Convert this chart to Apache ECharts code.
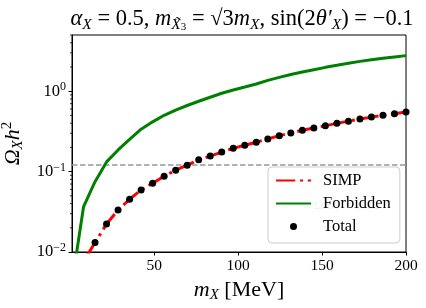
<!DOCTYPE html>
<html>
<head>
<meta charset="utf-8">
<script src="https://cdn.jsdelivr.net/npm/echarts@6/dist/echarts.min.js"></script>
<style>html,body{margin:0;padding:0;background:#fff;}#c{width:426px;height:308px;}</style>
</head>
<body>
<div id="c"></div>
<script>
const mX = [1, 7.862, 14.724, 21.586, 28.448, 35.310, 42.172, 49.034, 55.897, 62.759,
  69.621, 76.483, 83.345, 90.207, 97.069, 103.931, 110.793, 117.655, 124.517, 131.379,
  138.241, 145.103, 151.966, 158.828, 165.690, 172.552, 179.414, 186.276, 193.138, 200];
const simp = [0.0006, 0.0076, 0.0131, 0.0223, 0.0332, 0.0453, 0.0591, 0.0718, 0.0877, 0.104,
  0.120, 0.140, 0.156, 0.175, 0.195, 0.213, 0.232, 0.255, 0.279, 0.303,
  0.326, 0.348, 0.372, 0.398, 0.424, 0.450, 0.476, 0.501, 0.525, 0.552];
const forbidden = [0.0041, 0.0363, 0.075, 0.132, 0.186, 0.252, 0.337, 0.416, 0.502, 0.583,
  0.664, 0.750, 0.841, 0.942, 1.035, 1.127, 1.229, 1.362, 1.485, 1.61,
  1.73, 1.85, 1.98, 2.10, 2.23, 2.35, 2.46, 2.57, 2.67, 2.77];
const total = [0.0006, 0.0076, 0.0131, 0.0223, 0.0332, 0.0453, 0.0591, 0.0718, 0.0877, 0.104,
  0.120, 0.140, 0.156, 0.175, 0.195, 0.213, 0.232, 0.255, 0.279, 0.303,
  0.326, 0.348, 0.372, 0.398, 0.424, 0.450, 0.476, 0.501, 0.525, 0.552];
const omegaRef = 0.12;
const xTicks = [50, 100, 150, 200];
const yTicks = [0.01, 0.1, 1];
const yMinorTicks = [0.02,0.03,0.04,0.05,0.06,0.07,0.08,0.09,0.2,0.3,0.4,0.5,0.6,0.7,0.8,0.9,2,3,4,5];
const seriesNames = ['SIMP', 'Forbidden', 'Total'];

const FF = 'Liberation Serif';
const pair = (xs, ys) => xs.map((x, i) => [x, ys[i]]);
const isPow10 = v => Math.abs(Math.log10(v) - Math.round(Math.log10(v))) < 1e-6;

const chart = echarts.init(document.getElementById('c'), null, {renderer: 'canvas'});
chart.setOption({
  animation: false,
  backgroundColor: '#fff',
  title: {
    text: '{i|α}{s|X}{r| = 0.5, }{i|m}{s|X̃}{ss|3}{r| = √3}{i|m}{s|X}{r|, sin(2}{i|θ′}{s|X}{r|) = −0.1}',
    left: 237, top: 0, textAlign: 'center',
    textStyle: {
      fontFamily: FF, fontSize: 22.5, fontWeight: 'normal', color: '#000',
      rich: {
        r: {fontFamily: FF, fontSize: 22.5, lineHeight: 28, color: '#000'},
        i: {fontFamily: FF, fontSize: 22.5, fontStyle: 'italic', lineHeight: 28, color: '#000'},
        s: {fontFamily: FF, fontSize: 15.5, fontStyle: 'italic', lineHeight: 15, verticalAlign: 'bottom', color: '#000'},
        ss: {fontFamily: FF, fontSize: 11, lineHeight: 9, verticalAlign: 'bottom', color: '#000'}
      }
    }
  },
  grid: {left: 72, right: 20, top: 35, bottom: 56, containLabel: false, outerBoundsMode: 'none',
    show: true, borderColor: '#000', borderWidth: 1, backgroundColor: 'transparent'},
  legend: {
    data: [
      {name: seriesNames[0], itemStyle: {opacity: 0}},
      {name: seriesNames[1], itemStyle: {opacity: 0}},
      {name: seriesNames[2]}
    ],
    orient: 'vertical',
    left: 268, top: 167,
    itemWidth: 35, itemHeight: 7, itemGap: 6,
    padding: [5, 9, 8, 7],
    backgroundColor: 'rgba(255,255,255,0.8)',
    borderColor: '#cccccc', borderWidth: 1, borderRadius: 4,
    textStyle: {fontFamily: FF, fontSize: 16.5, color: '#000', lineHeight: 17, padding: [0, 0, 0, 7]},
    z: 10
  },
  graphic: [{
    type: 'text', left: 314, top: 199, z: 2, zlevel: 0, silent: true,
    style: {
      text: 'ΩXh² = 0.12',
      fill: '#b0b0b0',
      font: 'italic 13px "Liberation Serif"'
    }
  }],
  xAxis: {
    type: 'value', min: 1, max: 200,
    name: '{i|m}{s|X}{r| [MeV]}',
    nameLocation: 'middle', nameGap: 15,
    nameTextStyle: {
      fontFamily: FF, fontSize: 21, color: '#000',
      rich: {
        i: {fontFamily: FF, fontSize: 22, fontStyle: 'italic', lineHeight: 26, color: '#000'},
        r: {fontFamily: FF, fontSize: 22, lineHeight: 26, color: '#000'},
        s: {fontFamily: FF, fontSize: 15, fontStyle: 'italic', lineHeight: 14, verticalAlign: 'bottom', color: '#000'}
      }
    },
    axisLine: {show: true, onZero: false, lineStyle: {color: '#000', width: 1}},
    axisTick: {show: true, inside: false, length: 3.5, lineStyle: {color: '#000', width: 1}, customValues: xTicks},
    axisLabel: {fontFamily: FF, fontSize: 15.5, color: '#000', margin: 6, customValues: xTicks},
    splitLine: {show: false}
  },
  yAxis: {
    type: 'log', logBase: 10, min: 0.01, max: 5,
    name: '{i|Ω}{s|X}{i|h}{sup|2}',
    nameLocation: 'middle', nameRotate: 90, nameGap: 43,
    nameTextStyle: {
      fontFamily: FF, fontSize: 21, color: '#000',
      rich: {
        i: {fontFamily: FF, fontSize: 22, fontStyle: 'italic', lineHeight: 26, color: '#000'},
        s: {fontFamily: FF, fontSize: 15, fontStyle: 'italic', lineHeight: 14, verticalAlign: 'bottom', color: '#000'},
        sup: {fontFamily: FF, fontSize: 15, lineHeight: 16, verticalAlign: 'top', color: '#000'}
      }
    },
    axisLine: {show: true, lineStyle: {color: '#000', width: 1}},
    axisTick: {show: true, inside: false, length: 3.5, lineStyle: {color: '#000', width: 1}, customValues: yTicks},
    axisLabel: {
      margin: 6,
      customValues: yTicks,
      formatter: function (v) {
        if (!isPow10(v)) return '';
        const e = Math.round(Math.log10(v));
        return '{b|10}{e|' + (e < 0 ? '−' + (-e) : e) + '}';
      },
      rich: {
        b: {fontFamily: FF, fontSize: 16.5, lineHeight: 20, color: '#000'},
        e: {fontFamily: FF, fontSize: 12, lineHeight: 12, verticalAlign: 'top', color: '#000'}
      }
    },
    splitLine: {show: false}
  },
  series: [
    {
      name: 'SIMP', type: 'line', data: pair(mX, simp),
      showSymbol: false, symbol: 'none', clip: true, z: 3,
      itemStyle: {color: '#ff0000'},
      lineStyle: {color: '#ff0000', width: 3, type: [19.2, 4.8, 3, 4.8]},
      markLine: {
        silent: true, symbol: 'none', z: 1,
        label: {show: false},
        lineStyle: {color: '#999999', width: 1.5, type: [5.5, 2.5]},
        data: [{yAxis: omegaRef}]
      }
    },
    {
      name: 'Forbidden', type: 'line', data: pair(mX, forbidden),
      showSymbol: false, symbol: 'none', clip: true, z: 3,
      itemStyle: {color: '#008000'},
      lineStyle: {color: '#008000', width: 3}
    },
    {
      name: 'Total', type: 'scatter', data: pair(mX, total),
      symbol: 'circle', symbolSize: 7, clip: true, z: 4,
      itemStyle: {color: '#000', opacity: 1}
    },
    {
      type: 'custom', silent: true, clip: false, z: 5,
      data: yMinorTicks.map(v => [1, v]),
      renderItem: function (params, api) {
        const p = api.coord([1, api.value(1)]);
        return {type: 'line', shape: {x1: p[0] - 2, y1: p[1], x2: p[0], y2: p[1]}, style: {stroke: '#000', lineWidth: 0.8}};
      }
    }
  ]
});
</script>
</body>
</html>
